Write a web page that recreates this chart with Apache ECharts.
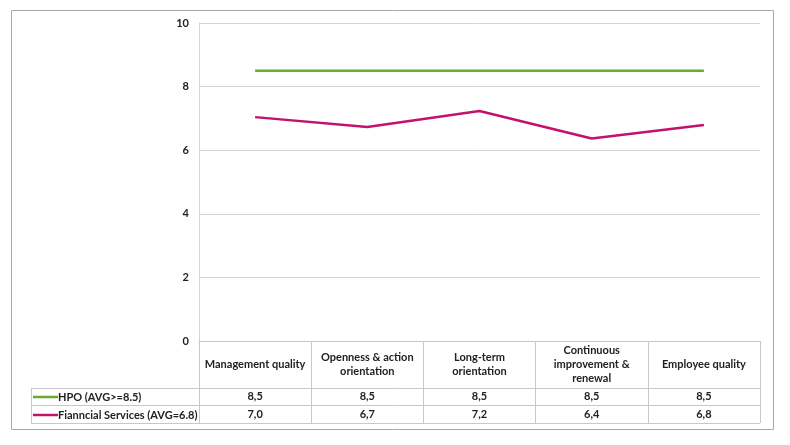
<!DOCTYPE html>
<html><head><meta charset="utf-8">
<script src="https://cdn.jsdelivr.net/npm/echarts@6/dist/echarts.min.js"></script>
<style>html,body{margin:0;padding:0;background:#fff}#c{width:790px;height:445px}</style>
</head><body><div id="c"></div>
<script>
const categories = ['Management quality', 'Openness & action\norientation', 'Long-term\norientation', 'Continuous\nimprovement &\nrenewal', 'Employee quality'];
const hpoName = 'HPO (AVG>=8.5)';
const fsName = 'Fianncial Services (AVG=6.8)';
const hpoValues = [8.5, 8.5, 8.5, 8.5, 8.5];
const fsValues = [7.04, 6.73, 7.23, 6.37, 6.79];
const yTicks = [0, 2, 4, 6, 8, 10];

const fmt = v => v.toFixed(1).replace('.', ',');
const hpoLabels = hpoValues.map(fmt);
const fsLabels = fsValues.map(fmt);

const GL = 199, GR = 760, GT = 23, GB = 341;
const ROW1 = 388, ROW2 = 405, ROW3 = 423, TL = 31;
const font = 'Lato, "Open Sans", sans-serif';
const gridCol = '#d4d4d4';
const tableCol = '#c8c8c8';
const green = '#6aac2c', magenta = '#c3116e';

const chart = echarts.init(document.getElementById('c'));
const hidden = {axisLine:{show:false}, axisTick:{show:false}, splitLine:{show:false}};
chart.setOption({
  animation: false,
  grid: {left: GL, right: 790 - GR, top: GT, bottom: 445 - GB},
  legend: {
    orient: 'vertical', left: TL + 2, top: ROW1 + 2, padding: 0,
    icon: 'rect', itemWidth: 25, itemHeight: 2.5, itemGap: 4,
    textStyle: {fontFamily: font, fontSize: 11, fontWeight: 'bold', color: '#222', lineHeight: 14, padding: [0,0,0,-5]},
    data: [hpoName, fsName]
  },
  xAxis: [
    {type: 'category', data: categories, boundaryGap: true, position: 'bottom',
     axisLine: {show: true, lineStyle: {color: tableCol}},
     axisTick: {show: true, length: ROW3 - GB, lineStyle: {color: tableCol}},
     splitLine: {show: false},
     axisLabel: {interval: 0, margin: (ROW1 - GB) / 2, verticalAlign: 'middle', align: 'center',
       fontFamily: font, fontSize: 11, fontWeight: 'bold', color: '#222', lineHeight: 14}},
    Object.assign({type: 'category', data: hpoLabels, position: 'bottom', gridIndex: 0,
     axisLabel: {interval: 0, margin: (ROW1 + ROW2) / 2 - GB, verticalAlign: 'middle',
       fontFamily: font, fontSize: 11, fontWeight: 'bold', color: '#222'}}, hidden),
    Object.assign({type: 'category', data: fsLabels, position: 'bottom', gridIndex: 0,
     axisLabel: {interval: 0, margin: (ROW2 + ROW3) / 2 - GB, verticalAlign: 'middle',
       fontFamily: font, fontSize: 11, fontWeight: 'bold', color: '#222'}}, hidden)
  ],
  yAxis: {
    type: 'value', min: yTicks[0], max: yTicks[yTicks.length - 1], interval: 2,
    axisLine: {show: true, lineStyle: {color: gridCol}},
    axisTick: {show: false},
    splitLine: {show: true, lineStyle: {color: gridCol, width: 1}},
    axisLabel: {margin: 10, fontFamily: font, fontSize: 11, fontWeight: 'bold', color: '#222'}
  },
  series: [
    {name: hpoName, type: 'line', data: hpoValues, symbol: 'none', lineStyle: {color: green, width: 2.5}, itemStyle: {color: green}},
    {name: fsName, type: 'line', data: fsValues, symbol: 'none', lineStyle: {color: magenta, width: 2.5}, itemStyle: {color: magenta}}
  ],
  graphic: [
    {type: 'rect', shape: {x: 11.5, y: 10.5, width: 762, height: 419}, style: {fill: 'none', stroke: '#a8a8a8', lineWidth: 1}, silent: true},
    {type: 'line', shape: {x1: TL, y1: ROW1 + 0.5, x2: GR, y2: ROW1 + 0.5}, style: {stroke: tableCol, lineWidth: 1}},
    {type: 'line', shape: {x1: TL, y1: ROW2 + 0.5, x2: GR, y2: ROW2 + 0.5}, style: {stroke: tableCol, lineWidth: 1}},
    {type: 'line', shape: {x1: TL, y1: ROW3 + 0.5, x2: GR, y2: ROW3 + 0.5}, style: {stroke: tableCol, lineWidth: 1}},
    {type: 'line', shape: {x1: TL + 0.5, y1: ROW1, x2: TL + 0.5, y2: ROW3}, style: {stroke: tableCol, lineWidth: 1}}
  ]
});
</script></body></html>
